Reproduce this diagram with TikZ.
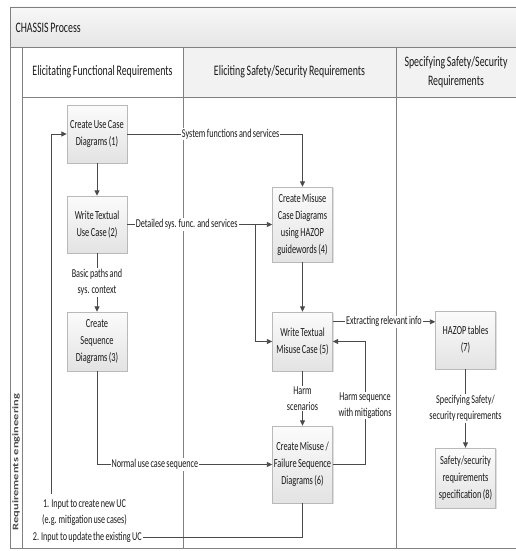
\documentclass[tikz,border=0pt]{standalone}
\usepackage{fontspec}
\setmainfont[FakeStretch=0.68,WordSpace=0.75]{Carlito}
\newfontfamily\lanefont{Carlito}
\usetikzlibrary{arrows.meta,shadows}
\definecolor{ln}{HTML}{4A4A4A}
\definecolor{frm}{HTML}{808080}
\definecolor{txt}{HTML}{1A1A1A}
\begin{document}
\begin{tikzpicture}[x=1pt,y=-1pt,
  proc/.style={draw=gray!55, top color=gray!3, bottom color=gray!22, minimum width=60pt,
    align=center, inner sep=1pt, text=txt,
    font=\fontsize{12.3}{17}\selectfont,
    drop shadow={opacity=0.25, shadow xshift=1.2pt, shadow yshift=-1.2pt}},
  conn/.style={draw=ln, line width=0.9pt, -{Triangle[length=5.5pt,width=5pt]}},
  plain/.style={draw=ln, line width=0.9pt},
  lab/.style={fill=white, inner sep=1pt, align=center, text=txt,
    font=\fontsize{12}{16}\selectfont},
  hdr/.style={align=center, text=txt, font=\fontsize{14.5}{19}\selectfont},
  frame/.style={draw=frm, line width=0.9pt}
]
\useasboundingbox (0,0) rectangle (516,551);
% swimlane frame
\shade[top color=gray!6, bottom color=gray!20] (10,7) rectangle (520,47);
\fill[gray!10] (183,47) rectangle (520,97);
\draw[frame] (10,7) rectangle (520,548);
\draw[frame] (10,47) -- (520,47);
\draw[frame] (22,47) -- (22,548);
\draw[frame] (183,47) -- (183,548);
\draw[frame] (396,47) -- (396,548);
\draw[frame] (22,97) -- (520,97);
\node[anchor=west, text=txt, font=\fontsize{14.5}{18}\selectfont] (title) at (12,28) {CHASSIS Process};
\node[hdr] (h1) at (102.5,72) {Elicitating Functional Requirements};
\node[hdr] (h2) at (289.5,72) {Eliciting Safety/Security Requirements};
\node[hdr] (h3) at (456,72) {Specifying Safety/Security\\Requirements};
\node[rotate=90, text=ln] (lane) at (16,462) {\scalebox{1}[0.68]{\lanefont\bfseries\fontsize{12.5}{14}\selectfont Requirements engineering}};
% process boxes
\node[proc, minimum height=58pt] (n1) at (97,134) {Create Use Case\\Diagrams (1)};
\node[proc, minimum height=57pt] (n2) at (97,224.5) {Write Textual\\Use Case (2)};
\node[proc, minimum height=59pt] (n3) at (97,341.5) {Create\\Sequence\\Diagrams (3)};
\node[proc, minimum height=75pt] (n4) at (302.5,224.5) {Create Misuse\\Case Diagrams\\using HAZOP\\guidewords (4)};
\node[proc, minimum height=59pt] (n5) at (302.5,341.5) {Write Textual\\Misuse Case (5)};
\node[proc, minimum height=77pt] (n6) at (302.5,464.5) {Create Misuse /\\Failure Sequence\\Diagrams (6)};
\node[proc, minimum height=58pt] (n7) at (465.5,340) {HAZOP tables\\(7)};
\node[proc, minimum height=60pt] (n8) at (465.5,478) {Safety/security\\requirements\\specification (8)};
% feedback labels
\node[lab, anchor=east] (l2) at (143,537) {2. Input to update the existing UC};
\node[lab] (l1) at (84.5,513) {1. Input to create new UC\\(e.g. mitigation use cases)};
\coordinate (fb) at (51,494);
\coordinate (br) at (255,224.5);
\coordinate (hs1) at (365,464.5);
\coordinate (hs2) at (365,341.5);
\coordinate (nc) at (97,464.5);
\coordinate (bt) at (302.5,537);
% connectors
\draw[conn] (n1) -- (n2);
\draw[conn] (n2) -- node[lab]{Basic paths and\\sys. context} (n3);
\draw[conn] (n1.east) -- node[lab, pos=0.59]{System functions and services} (n1.east -| n4.north) -- (n4.north);
\draw[conn] (n2.east) -- node[lab, pos=0.41]{Detailed sys. func. and services} (n4.west);
\draw[conn] (br) |- (n5.west);
\draw[conn] (n4) -- (n5);
\draw[conn] ([yshift=-10pt]n5.north east) -- node[lab]{Extracting relevant info} ([yshift=-10pt]n5.north east -| n7.west);
\draw[conn] (n5) -- node[lab]{Harm\\scenarios} (n6);
\draw[plain] (n6.east) -- (hs1);
\draw[conn] (hs1) -- node[lab, pos=0.48]{Harm sequence\\with mitigations} (hs2) -- (n5.east);
\draw[plain] (n3.south) -- (nc);
\draw[conn] (nc) -- node[lab, pos=0.33]{Normal use case sequence} (n6.west);
\draw[conn] (n7) -- node[lab]{Specifying Safety/\\security requirements} (n8);
\draw[plain] (n6.south) -- (bt) -- (l2.east);
\draw[conn] (fb) |- (n1.west);
\end{tikzpicture}
\end{document}
